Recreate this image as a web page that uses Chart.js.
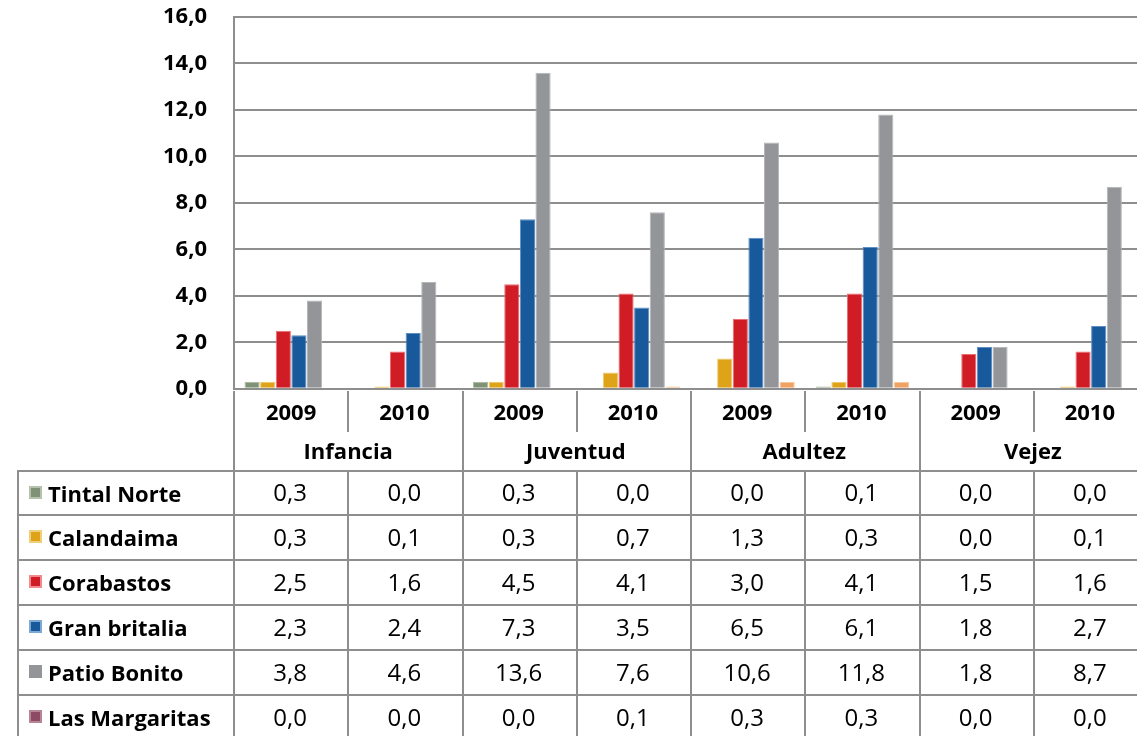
<!DOCTYPE html>
<html>
<head>
<meta charset="utf-8">
<script src="https://cdn.jsdelivr.net/npm/chart.js@4/dist/chart.umd.min.js"></script>
<style>
  html, body { margin: 0; padding: 0; background: #fff; }
  #wrap { position: relative; width: 1137px; height: 736px; overflow: hidden; font-family: "Open Sans", sans-serif; }
  #chart { position: absolute; left: 0; top: 0; }
  .cell { position: absolute; box-sizing: border-box; display: flex; align-items: center; justify-content: center; color: #000; font-size: 24px; border-color: #8e8e8e; border-style: solid; border-width: 0; white-space: nowrap; }
  .bold { font-weight: bold; font-size: 22px; }
  .rowhead { justify-content: flex-start; padding-left: 10px; }
  .key { display: inline-block; width: 13px; height: 13px; box-sizing: border-box; border: 2px solid; margin-right: 6px; }
</style>
</head>
<body>
<div id="wrap">
  <canvas id="chart" width="1150" height="402"></canvas>
  <div id="table"></div>
</div>
<script>
// categorías del eje X
const years = ["2009", "2010", "2009", "2010", "2009", "2010", "2009", "2010"];
const groups = ["Infancia", "Juventud", "Adultez", "Vejez"];
const yTicks = [0, 2, 4, 6, 8, 10, 12, 14, 16];

// series
const seriesNames = ["Tintal Norte", "Calandaima", "Corabastos", "Gran britalia", "Patio Bonito", "Las Margaritas"];
const tintalNorte   = [0.3, 0.0, 0.3, 0.0, 0.0, 0.1, 0.0, 0.0];
const calandaima    = [0.3, 0.1, 0.3, 0.7, 1.3, 0.3, 0.0, 0.1];
const corabastos    = [2.5, 1.6, 4.5, 4.1, 3.0, 4.1, 1.5, 1.6];
const granBritalia  = [2.3, 2.4, 7.3, 3.5, 6.5, 6.1, 1.8, 2.7];
const patioBonito   = [3.8, 4.6, 13.6, 7.6, 10.6, 11.8, 1.8, 8.7];
const lasMargaritas = [0.0, 0.0, 0.0, 0.1, 0.3, 0.3, 0.0, 0.0];

const seriesData = [tintalNorte, calandaima, corabastos, granBritalia, patioBonito, lasMargaritas];
const barColors = ["#7f9275", "#dfa31a", "#d01c24", "#17599a", "#939598", "#f0a262"];
const barEdges  = ["#a9b7a0", "#efc96a", "#ec6d72", "#5d8fc4", "#b4b6b8", "#f6c89c"];
const keyColors = ["#7f9275", "#dfa31a", "#d01c24", "#17599a", "#939598", "#8d4a63"];
const keyEdges  = ["#b6c2ae", "#f0cf7a", "#f08a8e", "#7ea8d4", "#939598", "#b88497"];

const fmt = v => v.toFixed(1).replace(".", ",");

const chart = new Chart(document.getElementById("chart"), {
  type: "bar",
  data: {
    labels: years,
    datasets: seriesNames.map((name, i) => ({
      label: name,
      data: seriesData[i],
      backgroundColor: barColors[i],
      borderColor: barEdges[i],
      borderWidth: 1,
      barPercentage: 0.97,
      categoryPercentage: 0.82
    }))
  },
  options: {
    responsive: false,
    animation: false,
    devicePixelRatio: 1,
    layout: { padding: { top: 17, bottom: 12, left: 0, right: 2 } },
    plugins: { legend: { display: false }, tooltip: { enabled: false } },
    scales: {
      x: { display: false },
      y: {
        min: 0,
        max: 16,
        afterBuildTicks: s => { s.ticks = yTicks.map(v => ({ value: v })); },
        afterFit: s => { s.width = 234; },
        ticks: {
          padding: 0,
          color: "#000",
          font: { family: "Open Sans", size: 22, weight: "bold" },
          callback: v => fmt(v)
        },
        // tick mark invisible, only used to push the labels away from the axis
        grid: { color: "#8e8e8e", lineWidth: 2, drawTicks: true, tickLength: 27, tickColor: "rgba(0,0,0,0)" },
        border: { display: true, color: "#8e8e8e", width: 2 }
      }
    }
  }
});

/* =======================
   TABLA DE DATOS
======================= */
function buildTable() {
  const t = document.getElementById("table");
  const xs = chart.scales.x;
  const area = chart.chartArea;
  const w = (area.right - area.left) / years.length;
  const colLeft = i => xs.getPixelForValue(i) - w / 2;
  const yearTop = area.bottom, yearH = 42;
  const groupTop = yearTop + yearH, groupH = 40;
  const rowTop = groupTop + groupH, rowH = 45;
  const headLeft = 17;

  function cell(x, y, cw, ch, html, cls, borders) {
    const d = document.createElement("div");
    d.className = "cell " + (cls || "");
    d.style.left = x + "px";
    d.style.top = y + "px";
    d.style.width = cw + "px";
    d.style.height = ch + "px";
    d.style.borderWidth = borders;
    d.innerHTML = html;
    t.appendChild(d);
  }

  years.forEach((yr, i) => {
    cell(colLeft(i) - 1, yearTop + 2, w + 2, yearH - 1, yr, "bold",
      i === 0 ? "0 2px 0 2px" : "0 2px 0 0");
  });
  groups.forEach((g, j) => {
    cell(colLeft(j * 2) - 1, groupTop, 2 * w + 2, groupH + 1, g, "bold",
      j === 0 ? "0 2px 2px 2px" : "0 2px 2px 0");
  });
  seriesNames.forEach((name, r) => {
    const y = rowTop + r * rowH;
    cell(headLeft, y - 1, area.left - headLeft + 1, rowH + 1,
      '<span class="key" style="background:' + keyColors[r] + ';border-color:' + keyEdges[r] + '"></span>' + name,
      "bold rowhead", r === 0 ? "2px 2px 2px 2px" : "0 2px 2px 2px");
    seriesData[r].forEach((v, i) => {
      cell(colLeft(i) - 1, y - 1, w + 2, rowH + 1, fmt(v), "", "0 2px 2px 0");
    });
  });
}
buildTable();
</script>
</body>
</html>
